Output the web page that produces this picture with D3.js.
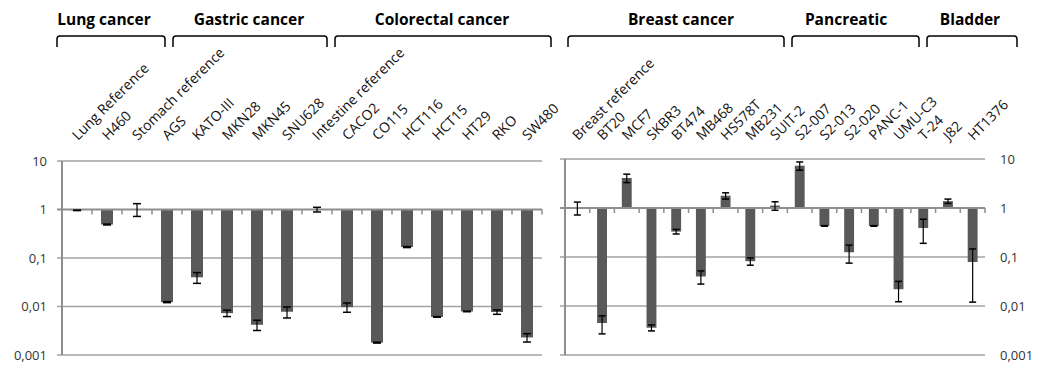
<!DOCTYPE html>
<html>
<head>
<meta charset="utf-8">
<script src="https://cdn.jsdelivr.net/npm/d3@7"></script>
<style>
  html, body { margin: 0; padding: 0; background: #fff; }
  svg { display: block; }
  text { font-family: "Open Sans", "Liberation Sans", sans-serif; }
</style>
</head>
<body>
<svg id="chart" width="1039" height="366"></svg>
<script>
// Relative expression per cell line (log scale), left and right panels
const leftCategories = ["Lung Reference", "H460", "Stomach reference", "AGS", "KATO-III", "MKN28", "MKN45", "SNU628",
  "Intestine reference", "CACO2", "CO115", "HCT116", "HCT15", "HT29", "RKO", "SW480"];
const leftValues = [0.96, 0.49, 1.02, 0.0123, 0.04, 0.0073, 0.0042, 0.0078,
  1.0, 0.0097, 0.0018, 0.168, 0.0061, 0.0079, 0.0077, 0.0023];
const leftErrors = [0.01, 0.01, 0.3, 0.0003, 0.01, 0.0011, 0.001, 0.002,
  0.11, 0.0021, 0.00004, 0.004, 0.0001, 0.0001, 0.0008, 0.00045];

const rightCategories = ["Breast reference", "BT20", "MCF7", "SKBR3", "BT474", "MB468", "HS578T", "MB231",
  "SUIT-2", "S2-007", "S2-013", "S2-020", "PANC-1", "UMU-C3", "T-24", "J82", "HT1376"];
const rightValues = [1.02, 0.0045, 4.1, 0.0036, 0.33, 0.04, 1.78, 0.082,
  1.12, 7.3, 0.43, 0.125, 0.43, 0.022, 0.39, 1.38, 0.079];
const rightErrors = [0.3, 0.0018, 0.8, 0.0005, 0.035, 0.012, 0.26, 0.014,
  0.22, 1.4, 0.006, 0.05, 0.006, 0.0098, 0.2, 0.14, 0.067];

const tickValues = [0.001, 0.01, 0.1, 1, 10];
const tickLabels = ["0,001", "0,01", "0,1", "1", "10"];

const groupNames = ["Lung cancer", "Gastric cancer", "Colorectal cancer", "Breast cancer", "Pancreatic", "Bladder"];

// Bracket spans and heading centres for the group annotations
const bracketSpans = [[57, 165], [173, 327], [335, 551], [568, 784], [792, 919], [927, 1017]];
const headingX = [104, 249, 442, 681, 846, 970];

const svg = d3.select("#chart");
const gridColor = "#a3a3a3";
const axisColor = "#8e8e8e";
const barColor = "#595959";

function drawPanel(cfg) {
  const { cats, vals, errs, x0, x1, yTop, yBottom, side, capW } = cfg;
  const x = d3.scaleBand().domain(cats).range([x0, x1]).paddingInner(0).paddingOuter(0);
  const y = d3.scaleLog().domain([0.001, 10]).range([yBottom, yTop]);
  const g = svg.append("g");
  const barW = x.bandwidth() * 0.4;

  // horizontal gridlines (extend 5px past the value axis)
  g.selectAll("line.grid").data(tickValues.filter(v => v !== 1)).join("line")
    .attr("x1", x0 - 5).attr("x2", x1)
    .attr("y1", d => y(d)).attr("y2", d => y(d))
    .attr("stroke", gridColor).attr("stroke-width", 1.5);

  // value axis
  g.append("line")
    .attr("x1", x0).attr("x2", x0).attr("y1", y(10)).attr("y2", y(0.001))
    .attr("stroke", axisColor).attr("stroke-width", 2);

  const fmt = d => tickLabels[tickValues.indexOf(d)];
  if (side === "left") {
    const ax = g.append("g").attr("transform", `translate(${x0 - 5},0)`)
      .call(d3.axisLeft(y).tickValues(tickValues).tickFormat(fmt).tickSize(0).tickPadding(10));
    ax.select(".domain").remove();
    ax.selectAll("text").attr("font-size", 13).attr("fill", "#333");
  } else {
    const ax = g.append("g").attr("transform", `translate(${x1},0)`)
      .call(d3.axisRight(y).tickValues(tickValues).tickFormat(fmt).tickSize(0).tickPadding(15));
    ax.select(".domain").remove();
    ax.selectAll("text").attr("font-size", 13).attr("fill", "#333");
  }

  // bars from the baseline at 1
  g.selectAll("rect.bar").data(cats).join("rect")
    .attr("x", d => x(d) + (x.bandwidth() - barW) / 2)
    .attr("width", barW)
    .attr("y", (d, i) => Math.min(y(1), y(vals[i])))
    .attr("height", (d, i) => Math.abs(y(vals[i]) - y(1)))
    .attr("fill", barColor);

  // category axis at 1 with boundary ticks
  g.append("line")
    .attr("x1", x0 - 5).attr("x2", x1)
    .attr("y1", y(1)).attr("y2", y(1))
    .attr("stroke", axisColor).attr("stroke-width", 2);
  const bounds = cats.map(c => x(c)).concat([x1]);
  g.selectAll("line.tick").data(bounds.slice(1)).join("line")
    .attr("x1", d => d).attr("x2", d => d)
    .attr("y1", y(1)).attr("y2", y(1) + 5)
    .attr("stroke", axisColor).attr("stroke-width", 1.5);

  // error bars
  const eb = g.selectAll("g.err").data(cats).join("g")
    .attr("transform", d => `translate(${x(d) + x.bandwidth() / 2},0)`);
  eb.append("line")
    .attr("y1", (d, i) => y(vals[i] + errs[i]))
    .attr("y2", (d, i) => y(Math.max(vals[i] - errs[i], 1e-6)))
    .attr("stroke", "#000").attr("stroke-width", 1.2);
  eb.append("line")
    .attr("x1", -capW / 2).attr("x2", capW / 2)
    .attr("y1", (d, i) => y(vals[i] + errs[i])).attr("y2", (d, i) => y(vals[i] + errs[i]))
    .attr("stroke", "#000").attr("stroke-width", 1.5);
  eb.append("line")
    .attr("x1", -capW / 2).attr("x2", capW / 2)
    .attr("y1", (d, i) => y(vals[i] - errs[i])).attr("y2", (d, i) => y(vals[i] - errs[i]))
    .attr("stroke", "#000").attr("stroke-width", 1.5);

  // rotated category labels above the plot
  g.selectAll("text.cat").data(cats).join("text")
    .attr("transform", d => `translate(${x(d) + x.bandwidth() / 2 + 1},${141}) rotate(-45)`)
    .attr("text-anchor", "start")
    .attr("font-size", 14)
    .attr("fill", "#111")
    .text(d => d);
}

drawPanel({ cats: leftCategories, vals: leftValues, errs: leftErrors,
  x0: 62, x1: 542, yTop: 161, yBottom: 355, side: "left", capW: 8 });
drawPanel({ cats: rightCategories, vals: rightValues, errs: rightErrors,
  x0: 565, x1: 985, yTop: 159, yBottom: 355, side: "right", capW: 7 });

// group brackets and headings
const ann = svg.append("g");
ann.selectAll("path.bracket").data(bracketSpans).join("path")
  .attr("d", ([a, b]) => `M${a},47 L${a},39 Q${a},36 ${a + 3},36 L${b - 3},36 Q${b},36 ${b},39 L${b},47`)
  .attr("fill", "none").attr("stroke", "#000").attr("stroke-width", 1.5);
ann.selectAll("text.head").data(groupNames).join("text")
  .attr("x", (d, i) => headingX[i]).attr("y", 25)
  .attr("text-anchor", "middle")
  .attr("font-size", 15.5).attr("font-weight", "bold").attr("fill", "#000")
  .text(d => d);
</script>
</body>
</html>
